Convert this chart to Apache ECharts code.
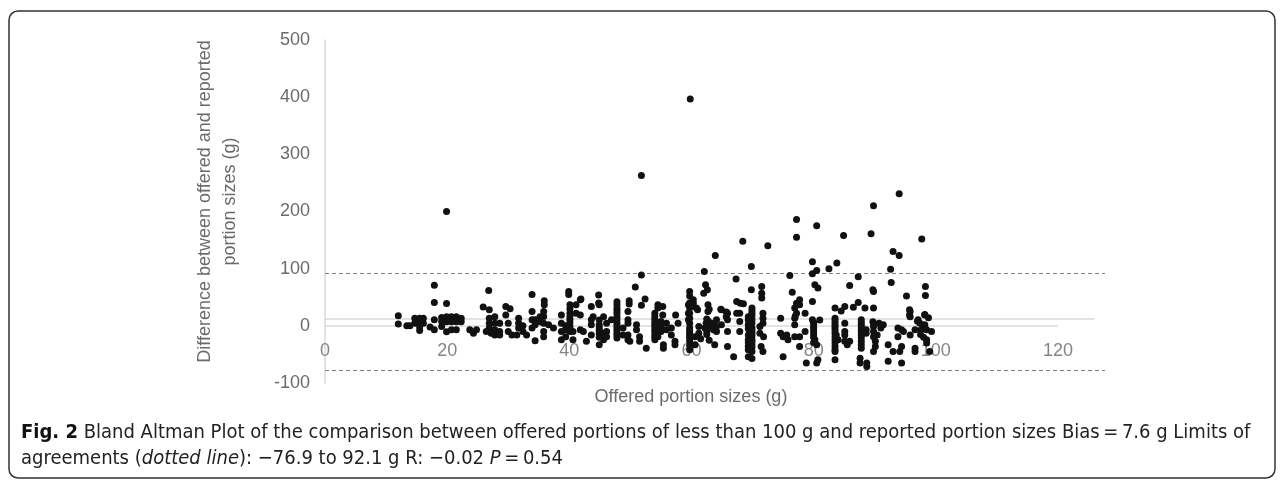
<!DOCTYPE html>
<html><head><meta charset="utf-8">
<script src="https://cdn.jsdelivr.net/npm/echarts@6/dist/echarts.min.js"></script>
<style>html,body{margin:0;padding:0;background:#fff}#c{width:1284px;height:482px}</style>
</head><body><div id="c"></div>
<script>
const xTickValues = [0, 20, 40, 60, 80, 100, 120];
const yTickValues = [-100, 0, 100, 200, 300, 400, 500];
const upperLimit = 92.1;
const lowerLimit = -76.9;
const biasValue = 12;
const xAxisName = 'Offered portion sizes (g)';
const yAxisName = 'Difference between offered and reported\nportion sizes (g)';

// [offered portion (g), difference offered - reported (g)]
const outlierPoints = [
  [59.8,397],[51.8,263],[94.0,231],[89.8,210],[77.2,186],[80.5,175],[84.9,158],[89.4,161],[97.7,152],
  [68.4,148],[72.5,140],[77.2,155],[63.9,123],[93.0,130],[94.0,123],[69.8,104],[79.8,112],[83.8,110],
  [82.5,100],[80.5,97],[92.6,99],[62.1,95],[79.8,91],[51.8,89],[76.1,88],[87.3,86],[67.3,82],[19.9,200]
];
const lowPoints = [
  [17.9,71],[17.9,41],[19.9,39],[26.8,62],[25.9,33],[33.9,55],[35.9,44],[35.9,37],[39.9,60],[39.9,55],
  [41.9,47],[44.8,54],[44.8,40],[50.8,68],[52.4,47],[51.8,36],[29.6,34],[30.3,30],[47.8,42],[47.8,37],
  [49.8,44],[49.8,38],
  [12.0,17.5],[12.0,3],[13.4,0],[13.9,0],[14.7,13.4],[14.7,4.7],[15.5,13.4],[15.5,4.7],[15.5,-2],[15.5,-8],
  [16.1,13.4],[16.1,4.7],[17.2,-2],[17.9,10.5],[17.9,-7],[19.1,14.6],[19.1,7.6],[19.1,-1],[19.9,15.8],
  [19.9,7],[19.9,-10.5],[20.7,15.8],[20.7,7],[20.7,-7],[21.5,15.8],[21.5,7],[21.5,-7],[22.3,13.4],[22.3,7],
  [23.7,-7],[24.3,-13],[24.8,-7],[26.9,28],[26.9,13.4],[26.9,4.7],[26.9,-4],[26.4,-10],[27.2,-13],[27.8,16],
  [27.8,4.7],[27.8,-7],[27.8,-16],[28.6,4.7],[28.6,-10],[28.6,-16],[29.6,19],[30.0,4.7],[30.0,-10],[30.6,-16],
  [31.4,-16],[31.7,13.4],[31.7,4.7],[31.7,-4],[32.4,0],[32.4,-10],[33.0,-16],[33.9,25],[33.9,10.5],[33.9,-4],
  [34.4,10.5],[34.4,2],[34.4,-26]
];
const midPoints = [
  [35.8,25],[35.8,16.3],[35.8,4.7],[35.8,-10],[35.8,-19],[35.2,16],[35.2,7],[36.6,2],[37.4,-4],[38.7,19],
  [38.7,4.7],[38.7,-10],[38.7,-24.5],[39.4,0],[39.4,-7],[39.4,-19],[40.1,36.8],[40.1,22],[40.1,10.5],[40.1,-1],
  [40.1,-10],[40.6,-10],[40.6,-24.5],[41.1,36.8],[41.1,22],[41.8,45.5],[41.8,19],[41.8,-7],[42.3,-10],[42.8,-27],
  [43.6,33.9],[43.6,10.5],[43.6,2],[43.6,-16],[43.9,16],[44.9,36.8],[44.9,2],[44.9,-4],[44.9,-13],[44.9,-33],
  [45.6,16],[45.6,-24.5],[45.6,-13],[46.1,4.7],[46.1,-10],[46.1,-19],[46.9,10.5],[47.8,31],[47.8,22],[47.8,16],
  [47.8,4.7],[47.8,-4],[47.8,-13],[47.8,-21.5],[48.8,-4],[48.8,-16],[49.6,25],[49.6,10.5],[49.6,4.7],[49.6,-16],
  [49.6,-24.5],[49.9,-27],[51.0,2],[51.0,-7],[51.5,-19],[51.5,-27],[52.6,-39],[54.0,22],[54.0,10.5],[54.0,2],
  [54.0,-7],[54.0,-16],[54.0,-24.5],[54.5,36.8],[54.5,31],[54.5,4.7],[54.5,-19],[55.0,7.6],[55.0,-1],[55.0,-10],
  [55.3,19],[55.3,33.9],[55.4,-33],[55.4,-39],[55.9,4.7],[55.9,-7],[56.7,-4],[56.7,-16],[57.4,19],[57.3,-27],
  [57.3,-33],[57.8,4.7],[59.5,36.8],[59.5,22],[59.5,10.5],
  [40.1,30],[40.1,16],[40.1,5],[40.1,-5],[44.9,10],[44.9,-8],[44.9,-20],[47.8,27],[47.8,10],[47.8,0],
  [47.8,-8],[47.8,-17],[54.0,16],[54.0,6],[54.0,-2],[54.0,-11],[54.0,-20]
];
const highPoints = [
  [59.7,60],[59.7,31],[59.7,13.4],[59.7,4.7],[59.7,-4],[59.7,-13],[59.7,-21.5],[59.7,-27],[59.7,-42],[60.3,45.5],
  [60.3,39.7],[60.6,-19],[60.6,-33],[60.8,31],[61.2,-1],[61.2,-13],[61.5,-22.5],[62.0,57],[62.3,71.8],[62.6,63],
  [62.7,36.8],[62.7,25],[62.2,-4],[62.4,4.7],[62.8,7.6],[63.1,-1],[63.6,-7],[63.6,4.7],[62.9,-25],[63.8,-33],
  [64.1,10.5],[64.1,-1],[64.1,-10],[64.9,28],[64.9,2],[65.9,22],[65.9,10.5],[65.9,-10],[65.9,-36],[66.9,-54],
  [67.4,42.6],[68.0,39.7],[68.5,38.5],[67.4,22],[67.9,22],[67.9,7.6],[67.9,-10],[69.3,16],[69.3,2],[69.3,-16],
  [69.3,-24.5],[69.3,-36],[69.3,-42],[69.3,-54],[69.8,63],[69.9,31],[69.9,22],[69.9,10.5],[69.9,-4],[69.9,-13],
  [69.9,-24.5],[69.9,-33],[69.9,-57],[71.2,-1],[71.2,-13],[71.5,68.9],[71.5,57],[71.5,48.5],[71.7,22],[71.7,13.4],
  [71.7,4.7],[71.4,-36],[71.7,-45],[71.8,-19],[74.6,13.4],[74.6,-13],[75.0,-19],[75.0,-54],[75.6,-16],[75.8,-24.5],
  [76.5,58.8],[76.9,31],[76.9,13.4],[76.9,2],[77.2,39.7],[77.2,22],[77.7,45.5],[77.7,36.8],[76.9,-19],[77.7,-19],
  [77.7,-36],[78.6,22],[78.6,-10],[80.2,71.8],[80.7,66],[79.8,42.6],[79.8,10.5],[80.0,2],[80.0,-7],[80.0,-16],
  [80.2,-24.5],[80.5,-33],[78.8,-65],[80.5,-65],[80.7,-59.5],[83.5,31],[83.5,4.7],[83.7,-16],[83.5,-42],[83.5,-59.5],
  [61.0,28],[62.9,29],[64.8,29],[65.7,24],[65.7,16],[69.8,19],[77.0,17],[81.0,10],[84.5,26],[89.7,63],
  [89.7,7],[95.7,28],[95.7,19],[98.2,20],[98.0,1],
  [59.7,52],[59.7,40],[59.7,22],[59.7,-8],[59.7,-17],[59.7,-35],[69.9,27],[69.9,17],[69.9,5],[69.9,-8],
  [69.9,-18],[69.9,-28],[69.9,-38],[69.9,-45],[69.3,10],[69.3,-5],[69.3,-30],[62.5,0],[62.5,-10],[62.5,-15],
  [62.5,12],[80.0,6],[80.0,-3],[80.0,-11],[80.0,-20],[80.0,-29]
];
const topPoints = [
  [92.7,75.9],[85.9,70.6],[89.8,60],[98.3,68.9],[98.3,53],[95.2,52.4],[85.1,33.9],[86.5,32.7],[87.3,40.8],[88.4,31],
  [89.8,31],[83.5,13.4],[83.5,-4],[83.5,-13],[83.5,-24.5],[85.1,4.7],[85.1,-10],[85.1,-16],[84.0,-24.5],[85.1,-27],
  [85.9,-27],[85.5,-33],[83.5,-36],[83.5,-45],[87.8,10.5],[87.8,2],[87.8,-7],[87.8,-16],[87.8,-27],[87.8,-39],
  [88.6,-7],[88.6,-13],[87.6,-56.5],[87.6,-65],[88.7,-65],[88.7,-71],[89.8,4.7],[89.8,-1],[89.8,-10],[89.8,-19],
  [90.1,-27],[90.1,-36],[89.8,-45],[90.4,-16],[90.7,4.7],[91.0,-4],[91.4,2],[92.2,-33],[92.2,-62],[93.0,-45],
  [94.1,-45],[94.4,-65],[93.8,-4],[94.4,-7],[94.7,-10],[93.8,-19],[94.4,-36],[95.8,25],[95.8,16],[95.8,-16],
  [96.6,-7],[96.6,-39],[96.6,-45],[97.1,10.5],[97.4,4.7],[97.6,-7],[97.9,-4],[98.2,2],[98.2,19],[98.5,-7],
  [98.5,-24.5],[98.5,-30],[99.0,-45],[99.3,-10],
  [87.8,6],[87.8,-2],[87.8,-11],[87.8,-21],[87.8,-33],[83.5,9],[83.5,0],[83.5,-8],[83.5,-19],[83.5,-30],
  [97.5,-15],[98.0,-20],[97.0,8],[98.8,14]
];
const points = [].concat(outlierPoints, lowPoints, midPoints, highPoints, topPoints);

const captionLine1 = '{b|Fig. 2} Bland Altman Plot of the comparison between offered portions of less than 100 g and reported portion sizes Bias\u2009=\u20097.6 g Limits of';
const captionLine2 = 'agreements ({i|dotted line}): \u221276.9 to 92.1 g R: \u22120.02 {i|P}\u2009=\u20090.54';

const chart = echarts.init(document.getElementById('c'), null, {renderer: 'canvas'});
const capFont = "'Liberation Sans Narrow', 'DejaVu Sans Condensed', sans-serif";
const lineColor = '#d9d9d9';
const dashColor = '#7f7f7f';
const gridTop = 40, gridHeight = 343;
const zeroOffset = -gridHeight * (0 - yTickValues[0]) / (yTickValues[yTickValues.length - 1] - yTickValues[0]);
const option = {
  animation: false,
  backgroundColor: '#fff',
  title: {
    left: 16, top: 415,
    text: captionLine1 + '\n' + captionLine2,
    textStyle: {
      fontFamily: capFont, fontSize: 20, lineHeight: 26, color: '#222', fontWeight: 'normal',
      rich: {
        b: {fontFamily: capFont, fontSize: 20, lineHeight: 26, fontWeight: 'bold', color: '#111'},
        i: {fontFamily: capFont, fontSize: 20, lineHeight: 26, fontStyle: 'italic', color: '#222'}
      }
    }
  },
  graphic: [{
    type: 'rect', silent: true, z: -1,
    shape: {x: 9, y: 11, width: 1266, height: 467, r: 9},
    style: {fill: 'none', stroke: '#333', lineWidth: 1.5}
  }],
  grid: {left: 325, top: gridTop, width: 780, height: gridHeight},
  xAxis: {
    type: 'value', min: 0, max: 127.7, interval: 20, position: 'bottom', offset: zeroOffset,
    axisLine: {show: false, onZero: false},
    axisTick: {show: false}, splitLine: {show: false},
    axisLabel: {
      margin: 16, color: '#858585', fontSize: 18, fontFamily: 'Liberation Sans',
      showMaxLabel: false,
      formatter: v => xTickValues.indexOf(v) >= 0 ? String(v) : ''
    },
    name: xAxisName, nameLocation: 'middle', nameGap: 62,
    nameTextStyle: {color: '#6b6b6b', fontSize: 18, fontFamily: 'Liberation Sans', padding: [0, 48, 0, 0]}
  },
  yAxis: {
    type: 'value', min: yTickValues[0], max: yTickValues[yTickValues.length - 1], interval: 100,
    axisLine: {show: true, onZero: false, lineStyle: {color: lineColor, width: 1.5}},
    axisTick: {show: false}, splitLine: {show: false},
    axisLabel: {margin: 15, color: '#6b6b6b', fontSize: 18, fontFamily: 'Liberation Sans'},
    name: yAxisName, nameLocation: 'middle', nameGap: 82,
    nameTextStyle: {color: '#6b6b6b', fontSize: 18, lineHeight: 25, fontFamily: 'Liberation Sans', padding: [0, 0, 0, 20]}
  },
  series: [{
    type: 'scatter', data: points, symbol: 'circle', symbolSize: 7, clip: false,
    itemStyle: {color: '#111', opacity: 1}, z: 3,
    markLine: {
      silent: true, symbol: 'none', label: {show: false}, z: 2, animation: false,
      data: [
        [{coord: [0, 0], lineStyle: {color: lineColor, width: 1.5, type: 'solid'}}, {coord: [120, 0]}],
        [{coord: [0, biasValue], lineStyle: {color: lineColor, width: 1.5, type: 'solid'}}, {coord: [126, biasValue]}],
        [{coord: [0, upperLimit], lineStyle: {color: dashColor, width: 1, type: [4, 3]}}, {coord: [127.7, upperLimit]}],
        [{coord: [0, lowerLimit], lineStyle: {color: dashColor, width: 1, type: [4, 3]}}, {coord: [127.7, lowerLimit]}]
      ]
    }
  }]
};
chart.setOption(option);
</script>
</body></html>
